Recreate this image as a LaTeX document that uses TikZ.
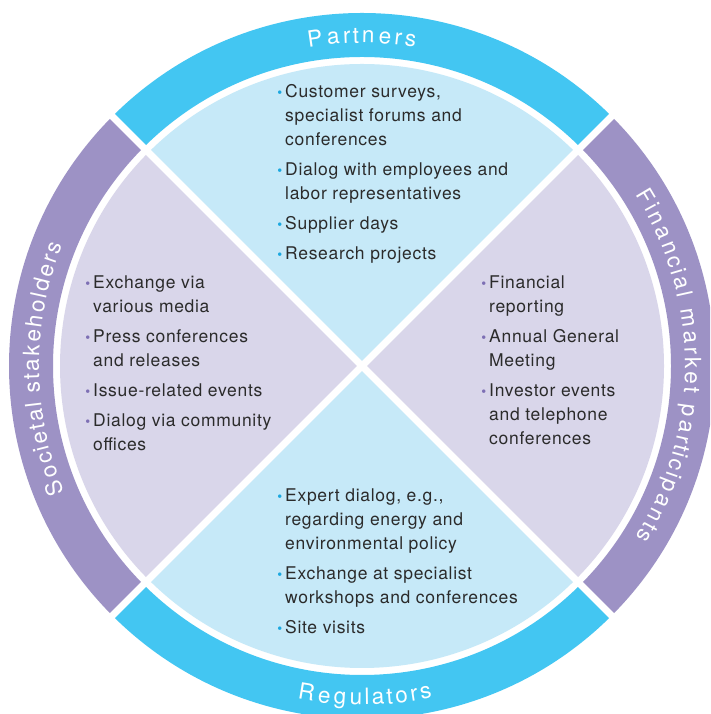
\documentclass[tikz,border=0pt]{standalone}
\usepackage{fontspec}
\setmainfont{TeX Gyre Heros}
\newfontfamily\listfont[LetterSpace=4]{TeX Gyre Heros}
\usetikzlibrary{decorations.text}
\definecolor{ringblue}{HTML}{43C6F2}
\definecolor{ringpurple}{HTML}{9D92C5}
\definecolor{paleblue}{HTML}{C6E9F8}
\definecolor{palepurple}{HTML}{D9D6EA}
\definecolor{dotblue}{HTML}{1BA8E0}
\definecolor{dotpurple}{HTML}{7D6FB4}
\definecolor{textgray}{HTML}{2B2B2B}
\def\cx{362}
\def\cy{348}
\def\rout{353}
\def\rin{309}
\def\rdisc{302}
\newcommand\ringfont{\fontsize{22.5}{22.5}\selectfont}
\newcommand\bul[1]{\llap{\textcolor{#1}{\fontsize{14}{14}\selectfont\textbullet}\hspace{3pt}}}

\begin{document}
\begin{tikzpicture}[x=1pt, y=1pt,
  blocktext/.style={anchor=north west, inner sep=0pt, align=left, text=textgray,
    font=\listfont\fontsize{17.5}{24}\selectfont},
  ringlabel/.style={decorate, decoration={text effects along path, text={#1},
    text effects/.cd, text along path, fit text to path,
    characters={text=white, font=\ringfont}}}]
\useasboundingbox (0,0) rectangle (710,714);
\fill[white] (0,0) rectangle (710,714);
\clip (0,0) rectangle (710,714);
\coordinate (C) at (\cx,\cy);

% ring and quarters
\foreach \a/\col/\pale in {45/ringblue/paleblue, 135/ringpurple/palepurple,
                           225/ringblue/paleblue, 315/ringpurple/palepurple}{
  \fill[\col] ([shift={(\a:\rout)}]C) arc (\a:\a+90:\rout)
    -- ([shift={(\a+90:\rin)}]C) arc (\a+90:\a:\rin) -- cycle;
  \fill[\pale] (C) -- ([shift={(\a:\rdisc)}]C) arc (\a:\a+90:\rdisc) -- cycle;
}
% white cross
\draw[white, line width=7pt] ([shift={(45:360)}]C) -- ([shift={(225:360)}]C);
\draw[white, line width=7pt] ([shift={(135:360)}]C) -- ([shift={(315:360)}]C);

% ring labels
\path[ringlabel=Partners] ([shift={(99.5:323)}]C) arc (99.5:80.5:323);
\path[ringlabel={Financial market participants}] ([shift={(32:323)}]C) arc (32:-32:323);
\path[ringlabel={Societal stakeholders}] ([shift={(203:323)}]C) arc (203:158:323);
\path[ringlabel=Regulators] ([shift={(259:339)}]C) arc (259:282:339);

% lists
\node[blocktext] (partners-list) at (285,633.8) {%
  \strut\bul{dotblue}Customer surveys,\\ specialist forums and\\ conferences\\[6pt]
  \bul{dotblue}Dialog with employees and\\ labor representatives\\[6pt]
  \bul{dotblue}Supplier days\\[6pt]
  \bul{dotblue}Research projects};
\node[blocktext] (societal-list) at (93,442.8) {%
  \strut\bul{dotpurple}Exchange via\\ various media\\[6pt]
  \bul{dotpurple}Press conferences\\ and releases\\[6pt]
  \bul{dotpurple}Issue-related events\\[6pt]
  \bul{dotpurple}Dialog via community\\ offices};
\node[blocktext] (financial-list) at (489,442.8) {%
  \strut\bul{dotpurple}Financial\\ reporting\\[6pt]
  \bul{dotpurple}Annual General\\ Meeting\\[6pt]
  \bul{dotpurple}Investor events\\ and telephone\\ conferences};
\node[blocktext] (regulators-list) at (285,229.8) {%
  \strut\bul{dotblue}Expert dialog, e.g.,\\ regarding energy and\\ environmental policy\\[6pt]
  \bul{dotblue}Exchange at specialist\\ workshops and conferences\\[6pt]
  \bul{dotblue}Site visits};
\end{tikzpicture}
\end{document}
